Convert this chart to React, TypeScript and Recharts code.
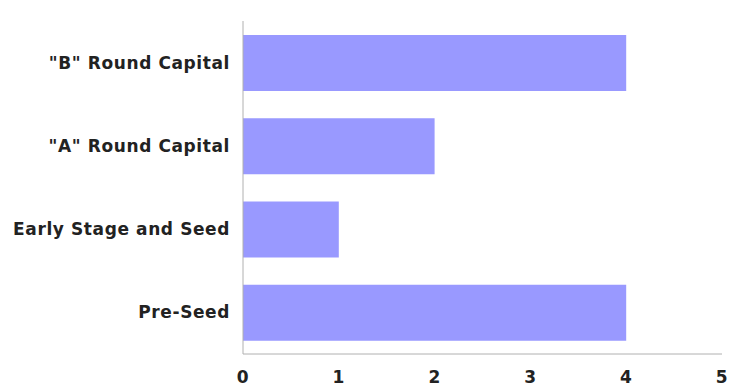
import { BarChart, Bar, XAxis, YAxis } from "recharts";

const categories = ['"B" Round Capital', '"A" Round Capital', "Early Stage and Seed", "Pre-Seed"];
const counts = [4, 2, 1, 4];
const xTicks = [0, 1, 2, 3, 4, 5];

const data = categories.map((name, i) => ({ name, value: counts[i] }));

const labelStyle = {
  fontFamily: "DejaVu Sans, sans-serif",
  fontWeight: 700,
  fontSize: 17,
  letterSpacing: 0.6,
  fill: "#222",
};

export default function App() {
  return (
    <div style={{ position: "absolute", left: 0, top: 0 }}>
      <BarChart
        width={729}
        height={387}
        data={data}
        layout="vertical"
        margin={{ top: 21, right: 7, bottom: 0, left: 0 }}
        barSize={56}
      >
        <XAxis
          type="number"
          domain={[0, 5]}
          ticks={xTicks}
          height={33}
          stroke="#b0b0b0"
          tickLine={false}
          tickSize={0}
          tickMargin={17}
          tick={labelStyle}
          interval={0}
        />
        <YAxis
          type="category"
          dataKey="name"
          width={243}
          stroke="#b0b0b0"
          tickLine={false}
          tickSize={0}
          tickMargin={13}
          tick={labelStyle}
          interval={0}
        />
        <Bar dataKey="value" fill="#9999ff" isAnimationActive={false} />
      </BarChart>
    </div>
  );
}
